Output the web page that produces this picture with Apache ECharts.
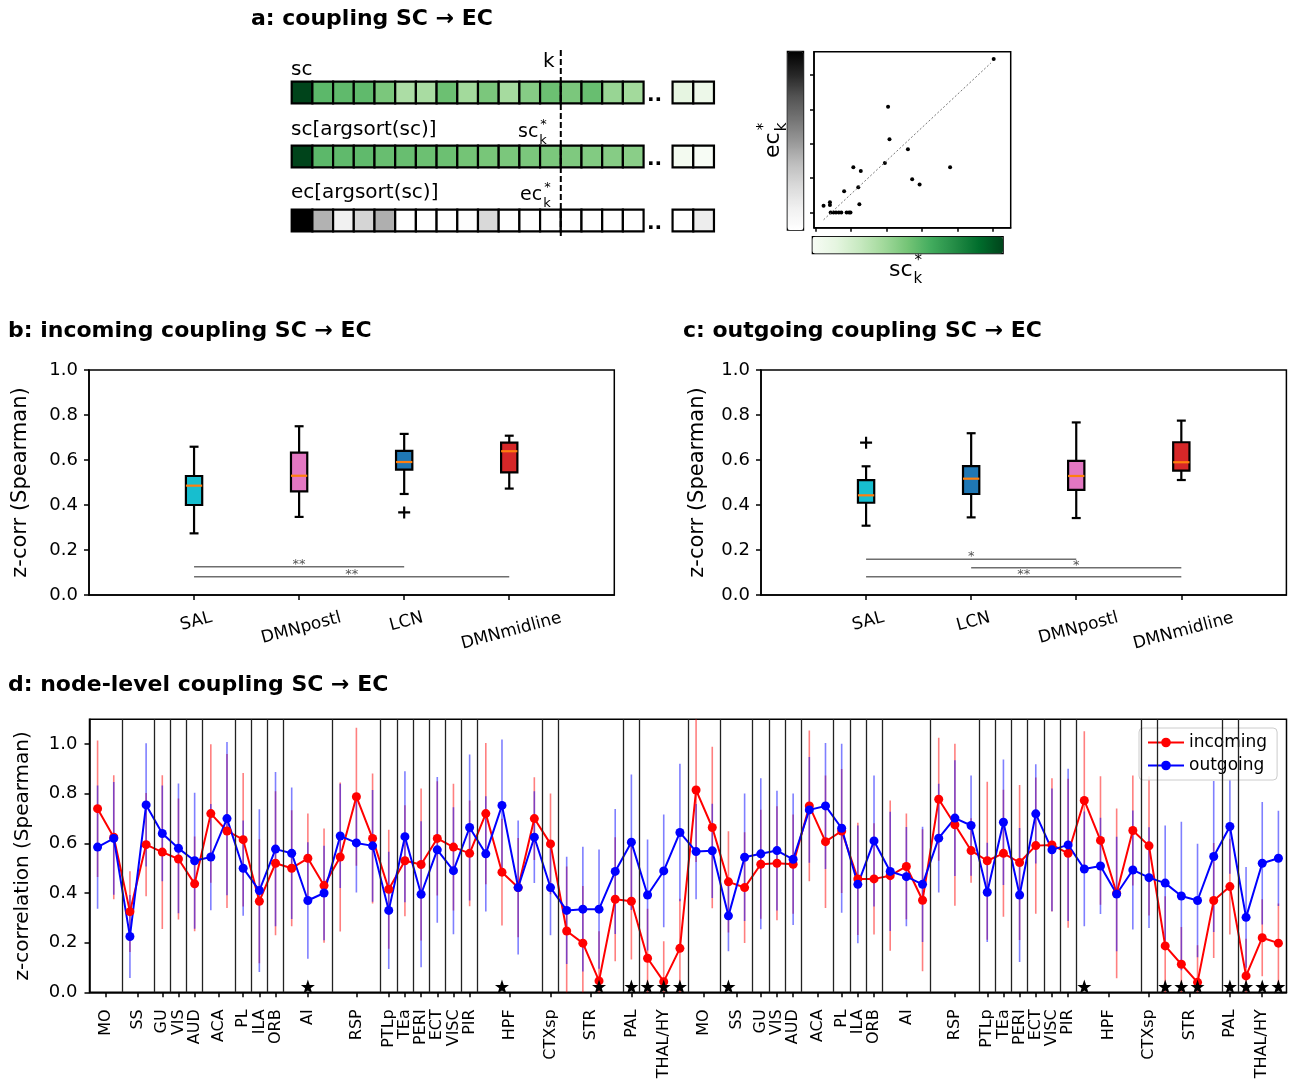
<!DOCTYPE html>
<html>
<head>
<meta charset="utf-8">
<script src="https://cdn.jsdelivr.net/npm/echarts@6/dist/echarts.min.js"></script>
<style>
  html, body { margin: 0; background: #fff; }
  #chart { width: 1295px; height: 1084px; }
</style>
</head>
<body>
<div id="chart"></div>
<script>
// ---------- panel a: schematic values ----------
const scRow = [1.0, 0.56, 0.55, 0.55, 0.48, 0.34, 0.35, 0.52, 0.37, 0.48, 0.36, 0.45, 0.52, 0.48, 0.53, 0.40, 0.37];
const scRowTail = [0.12, 0.07];
const scSorted = [1.0, 0.56, 0.55, 0.55, 0.53, 0.53, 0.52, 0.52, 0.50, 0.49, 0.48, 0.48, 0.48, 0.47, 0.46, 0.45, 0.44];
const scSortedTail = [0.03, 0.0];
const ecSorted = [1.0, 0.41, 0.12, 0.27, 0.42, 0, 0, 0, 0.02, 0.25, 0, 0, 0, 0, 0, 0, 0];
const ecSortedTail = [0, 0.14];
const kCut = 13;
const scK = [5.02, 2.04, 2.08, 2.60, 1.95, 1.06, 1.27, 3.79, 2.72, 2.93, 1.20, 0.80, 0.40, 0.40, 0.22, 1.23, 0.42, 0.50, 0.57, 0.65, 0.72, 0.87, 0.94, 0.98];
const ecK = [4.47, 3.08, 2.13, 1.84, 1.44, 1.32, 1.21, 1.32, 0.97, 0.82, 0.74, 0.62, 0.30, 0.22, 0.20, 0.24, 0, 0, 0, 0, 0, 0, 0, 0];
const fitLine = [[0.22, -0.21], [4.94, 4.35]];

// ---------- panel b / c: boxplots [min, q1, median, q3, max] ----------
const inNames = ['SAL', 'DMNpostl', 'LCN', 'DMNmidline'];
const inStats = [
  [0.274, 0.400, 0.486, 0.529, 0.659],
  [0.347, 0.461, 0.530, 0.633, 0.750],
  [0.449, 0.557, 0.591, 0.641, 0.716],
  [0.473, 0.545, 0.639, 0.677, 0.708]
];
const inOutliers = [[3, 0.367]];
const inSigPairs = [[1, 3], [1, 4]];
const inSigY = [0.126, 0.081];
const inSigText = ['**', '**'];

const outNames = ['SAL', 'LCN', 'DMNpostl', 'DMNmidline'];
const outStats = [
  [0.308, 0.410, 0.443, 0.511, 0.572],
  [0.345, 0.449, 0.517, 0.573, 0.719],
  [0.342, 0.467, 0.529, 0.596, 0.767],
  [0.511, 0.553, 0.590, 0.679, 0.775]
];
const outOutliers = [[1, 0.677]];
const outSigPairs = [[1, 3], [2, 4], [1, 4]];
const outSigY = [0.159, 0.121, 0.081];
const outSigText = ['*', '*', '**'];

// ---------- panel d: node-level coupling ----------
const groupNames = ['MO', 'SS', 'GU', 'VIS', 'AUD', 'ACA', 'PL', 'ILA', 'ORB', 'AI', 'RSP', 'PTLp', 'TEa', 'PERI', 'ECT', 'VISC', 'PIR', 'HPF', 'CTXsp', 'STR', 'PAL', 'THAL/HY'];
const groupSizes = [2, 2, 1, 1, 1, 2, 1, 1, 1, 3, 3, 1, 1, 1, 1, 1, 1, 4, 1, 4, 1, 3];
const incomingMean = [
  0.74, 0.625, 0.325, 0.595, 0.565, 0.537, 0.437, 0.72, 0.65, 0.615, 0.367, 0.52, 0.50, 0.54, 0.43, 0.545, 0.788, 0.62, 0.415,
  0.53, 0.515, 0.62, 0.585, 0.56, 0.72, 0.484, 0.422, 0.70, 0.598, 0.247, 0.198, 0.046, 0.375, 0.367, 0.137, 0.043, 0.177,
  0.815, 0.664, 0.445, 0.422, 0.516, 0.52, 0.516, 0.751, 0.607, 0.65, 0.457, 0.457, 0.47, 0.507, 0.371, 0.778, 0.675, 0.571,
  0.53, 0.56, 0.523, 0.591, 0.594, 0.56, 0.773, 0.612, 0.399, 0.652, 0.59, 0.187, 0.113, 0.04, 0.37, 0.426, 0.066, 0.22, 0.198
];
const incomingSd = [
  0.275, 0.25, 0.163, 0.208, 0.31, 0.244, 0.191, 0.279, 0.31, 0.269, 0.25, 0.29, 0.234, 0.18, 0.23, 0.30, 0.278, 0.262, 0.24,
  0.224, 0.306, 0.23, 0.255, 0.213, 0.285, 0.215, 0.2, 0.167, 0.203, 0.26, 0.23, 0.2, 0.25, 0.235, 0.2, 0.163, 0.2,
  0.29, 0.325, 0.204, 0.223, 0.22, 0.23, 0.2, 0.304, 0.267, 0.25, 0.226, 0.224, 0.303, 0.213, 0.286, 0.248, 0.326, 0.13,
  0.318, 0.256, 0.312, 0.274, 0.268, 0.3, 0.279, 0.259, 0.342, 0.222, 0.281, 0.2, 0.15, 0.15, 0.232, 0.193, 0.15, 0.155, 0.16
];
const outgoingMean = [
  0.585, 0.62, 0.225, 0.755, 0.64, 0.58, 0.53, 0.545, 0.70, 0.50, 0.41, 0.577, 0.56, 0.37, 0.40, 0.63, 0.602, 0.59, 0.33,
  0.627, 0.395, 0.574, 0.49, 0.664, 0.558, 0.753, 0.422, 0.625, 0.422, 0.33, 0.335, 0.335, 0.487, 0.605, 0.392, 0.489, 0.644,
  0.567, 0.57, 0.308, 0.544, 0.558, 0.571, 0.536, 0.735, 0.751, 0.661, 0.435, 0.61, 0.487, 0.466, 0.435, 0.621, 0.702, 0.672,
  0.403, 0.685, 0.392, 0.719, 0.574, 0.594, 0.497, 0.509, 0.396, 0.493, 0.462, 0.44, 0.388, 0.37, 0.547, 0.668, 0.302, 0.52, 0.54
];
const outgoingSd = [
  0.248, 0.227, 0.167, 0.248, 0.193, 0.261, 0.274, 0.214, 0.309, 0.192, 0.328, 0.311, 0.265, 0.235, 0.19, 0.21, 0.2, 0.225, 0.236,
  0.264, 0.294, 0.294, 0.256, 0.294, 0.232, 0.266, 0.27, 0.185, 0.192, 0.216, 0.251, 0.24, 0.252, 0.273, 0.224, 0.227, 0.277,
  0.192, 0.19, 0.143, 0.257, 0.304, 0.241, 0.265, 0.213, 0.254, 0.34, 0.237, 0.264, 0.24, 0.2, 0.232, 0.219, 0.233, 0.202,
  0.2, 0.253, 0.27, 0.2, 0.247, 0.307, 0.231, 0.194, 0.231, 0.24, 0.203, 0.232, 0.299, 0.229, 0.304, 0.19, 0.203, 0.247, 0.192
];
const starNodes = [13, 25, 31, 33, 34, 35, 36, 39, 61, 66, 67, 68, 70, 71, 72, 73];

// ---------- styles ----------
const FONT = 'DejaVu Sans';
const GREENS = ['#f7fcf5', '#e5f5e0', '#c7e9c0', '#a1d99b', '#74c476', '#41ab5d', '#238b45', '#006d2c', '#00441b'];
const GREYS = ['#ffffff', '#f0f0f0', '#d9d9d9', '#bdbdbd', '#969696', '#737373', '#525252', '#252525', '#000000'];
const groupColor = { SAL: '#17becf', DMNpostl: '#e377c2', LCN: '#1f77b4', DMNmidline: '#d62728' };

// ---------- derived ----------
// cells of panel a: [column, row, value]
const tailStart = 18.4;
function rowCells(vals, tail, row) {
  const out = vals.map((v, i) => [i, row, v]);
  tail.forEach((v, j) => out.push([tailStart + j, row, v]));
  return out;
}
const cellH = 0.3375;

// panel d: hemispheres are the same group list twice
const hemiNames = groupNames.concat(groupNames);
const hemiSizes = groupSizes.concat(groupSizes);
const tickPos = [], tickName = {}, boundaries = [];
let start = 0;
hemiSizes.forEach((n, g) => {
  const c = start + (n - 1) / 2;
  tickPos.push(c);
  tickName[c.toFixed(1)] = hemiNames[g];
  start += n;
  if (g < hemiSizes.length - 1) boundaries.push(start - 0.5);
});

// ---------- render helpers ----------
function cellItem(params, api) {
  const x = api.value(0), r = api.value(1);
  const a = api.coord([x, r]), b = api.coord([x + 1, r + cellH]);
  return {
    type: 'rect',
    shape: { x: a[0], y: a[1], width: b[0] - a[0], height: b[1] - a[1] },
    style: { fill: api.visual('color'), stroke: '#000', lineWidth: 2.2 }
  };
}

function boxItem(names) {
  return function (params, api) {
    const x = api.value(0);
    const mn = api.value(1), q1 = api.value(2), md = api.value(3), q3 = api.value(4), mx = api.value(5);
    const bw = 0.155, cw = 0.085;
    const tl = api.coord([x - bw / 2, q3]), br = api.coord([x + bw / 2, q1]);
    const line = (x1, y1, x2, y2, color, w) => {
      const p = api.coord([x1, y1]), q = api.coord([x2, y2]);
      return { type: 'line', shape: { x1: p[0], y1: p[1], x2: q[0], y2: q[1] }, style: { stroke: color, lineWidth: w } };
    };
    return {
      type: 'group',
      children: [
        line(x, q3, x, mx, '#000', 2.2),
        line(x, q1, x, mn, '#000', 2.2),
        line(x - cw / 2, mx, x + cw / 2, mx, '#000', 2.2),
        line(x - cw / 2, mn, x + cw / 2, mn, '#000', 2.2),
        {
          type: 'rect',
          shape: { x: tl[0], y: tl[1], width: br[0] - tl[0], height: br[1] - tl[1] },
          style: { fill: groupColor[names[params.dataIndex]], stroke: '#000', lineWidth: 2.2 }
        },
        line(x - bw / 2, md, x + bw / 2, md, '#ff7f0e', 2.2)
      ]
    };
  };
}

function sigItem(texts) {
  return function (params, api) {
    const a = api.coord([api.value(0), api.value(2)]);
    const b = api.coord([api.value(1), api.value(2)]);
    return {
      type: 'group',
      children: [
        { type: 'line', shape: { x1: a[0], y1: a[1], x2: b[0], y2: b[1] }, style: { stroke: '#6e6e6e', lineWidth: 1.5 } },
        {
          type: 'text', x: (a[0] + b[0]) / 2, y: a[1] + 4,
          style: { text: texts[params.dataIndex], fill: '#555', font: '13px "DejaVu Sans"', align: 'center', verticalAlign: 'bottom' }
        }
      ]
    };
  };
}

function errItem(color) {
  return function (params, api) {
    const i = api.value(0), m = api.value(1), s = api.value(2);
    const a = api.coord([i, m - s]), b = api.coord([i, m + s]);
    return {
      type: 'line',
      shape: { x1: a[0], y1: a[1], x2: b[0], y2: b[1] },
      style: { stroke: color, lineWidth: 1.6, opacity: 0.5 }
    };
  };
}

const PLUS = 'path://M0,4.1H10V5.9H0Z M4.1,0H5.9V10H4.1Z';
const STAR = 'path://M12,0 L14.9,8.3 L23.4,8.3 L16.5,13.5 L19.1,21.8 L12,16.8 L4.9,21.8 L7.5,13.5 L0.6,8.3 L9.1,8.3 Z';

function textWidth(s, font) {
  return echarts.format.getTextRect ? echarts.format.getTextRect(s, font).width : s.length * 10;
}

// label with subscript k and superscript *
function subSup(x, y, base, size, rotation) {
  const w = textWidth(base, size + 'px "DejaVu Sans"');
  return {
    type: 'group', x: x, y: y, rotation: rotation || 0, silent: true,
    children: [
      { type: 'text', x: 0, y: 0, style: { text: base, font: size + 'px "DejaVu Sans"', fill: '#000', verticalAlign: 'bottom' } },
      { type: 'text', x: w + 1, y: size * 0.25, style: { text: 'k', font: Math.round(size * 0.7) + 'px "DejaVu Sans"', fill: '#000', verticalAlign: 'bottom' } },
      { type: 'text', x: w + 2, y: -size * 0.55, style: { text: '*', font: Math.round(size * 0.7) + 'px "DejaVu Sans"', fill: '#000', verticalAlign: 'bottom' } }
    ]
  };
}

const tickStyle = { show: true, inside: false, length: 5, lineStyle: { color: '#000', width: 1.5 } };
const lineStyleAxis = { show: true, onZero: false, lineStyle: { color: '#000', width: 1.5 } };
const gridBase = { show: true, borderColor: '#000', borderWidth: 1.5, backgroundColor: '#fff', containLabel: false, outerBoundsMode: 'none' };

// rotated category labels: push longer labels further down, like a centred rotated label
const LABEL_ROT = 15;
function boxXAxis(gridIndex, names) {
  const rich = {};
  names.forEach((n, i) => {
    const w = textWidth(n, '17px "DejaVu Sans"');
    const p = w * Math.sin(LABEL_ROT * Math.PI / 180) / 2;
    rich['l' + i] = { fontFamily: FONT, fontSize: 17, color: '#000', padding: [p, 0.55 * p, 0, 0] };
  });
  return {
    type: 'value', gridIndex, min: 0, max: 5,
    axisLine: lineStyleAxis, splitLine: { show: false },
    axisTick: Object.assign({ customValues: [1, 2, 3, 4] }, tickStyle),
    axisLabel: {
      customValues: [1, 2, 3, 4],
      formatter: v => { const i = Math.round(v) - 1; return '{l' + i + '|' + names[i] + '}'; },
      rich: rich,
      rotate: LABEL_ROT, align: 'center', verticalAlign: 'top', margin: 14,
      fontFamily: FONT, fontSize: 17, color: '#000'
    }
  };
}
function boxYAxis(gridIndex, gap) {
  return {
    type: 'value', gridIndex, min: 0, max: 1,
    axisLine: lineStyleAxis, splitLine: { show: false },
    axisTick: Object.assign({ customValues: [0, 0.2, 0.4, 0.6, 0.8, 1.0] }, tickStyle),
    axisLabel: { customValues: [0, 0.2, 0.4, 0.6, 0.8, 1.0], formatter: v => v.toFixed(1), margin: 11, fontFamily: FONT, fontSize: 18, color: '#000' },
    name: 'z-corr (Spearman)', nameLocation: 'middle', nameGap: gap, nameRotate: 90,
    nameTextStyle: { fontFamily: FONT, fontSize: 21, color: '#000' }
  };
}

const titleStyle = { fontFamily: FONT, fontSize: 22, fontWeight: 'bold', color: '#000' };

const option = {
  animation: false,
  backgroundColor: '#fff',
  title: [
    { text: 'a: coupling SC → EC', left: 251, top: 8, textStyle: titleStyle, padding: 0 },
    { text: 'b: incoming coupling SC → EC', left: 8, top: 320, textStyle: titleStyle, padding: 0 },
    { text: 'c: outgoing coupling SC → EC', left: 683, top: 320, textStyle: titleStyle, padding: 0 },
    { text: 'd: node-level coupling SC → EC', left: 8, top: 674, textStyle: titleStyle, padding: 0 }
  ],
  grid: [
    { left: 291.7, top: 50, width: 423.3, height: 188, show: false, containLabel: false, outerBoundsMode: 'none' },
    Object.assign({ left: 814, top: 51.7, width: 196.7, height: 176 }, gridBase),
    Object.assign({ left: 89, top: 370, width: 525.3, height: 225 }, gridBase),
    Object.assign({ left: 761, top: 370, width: 525.4, height: 225 }, gridBase),
    Object.assign({ left: 89.5, top: 719.3, width: 1197, height: 273 }, gridBase)
  ],
  xAxis: [
    { type: 'value', gridIndex: 0, min: 0, max: 20.45, show: false },
    {
      type: 'value', gridIndex: 1, min: -0.05, max: 5.5,
      axisLine: lineStyleAxis, splitLine: { show: false },
      axisTick: Object.assign({ customValues: [0, 1, 2, 3, 4, 5] }, tickStyle, { length: 4 }),
      axisLabel: { show: false }
    },
    boxXAxis(2, inNames),
    boxXAxis(3, outNames),
    {
      type: 'value', gridIndex: 4, min: -0.5, max: 73.5,
      axisLine: lineStyleAxis, splitLine: { show: false },
      axisTick: Object.assign({ customValues: tickPos }, tickStyle),
      axisLabel: {
        customValues: tickPos, formatter: v => tickName[v.toFixed(1)],
        rotate: 90, margin: 17, fontFamily: FONT, fontSize: 16, color: '#000'
      }
    }
  ],
  yAxis: [
    { type: 'value', gridIndex: 0, min: -0.495, max: 2.4425, inverse: true, show: false },
    {
      type: 'value', gridIndex: 1, min: -0.44, max: 4.68,
      axisLine: lineStyleAxis, splitLine: { show: false },
      axisTick: Object.assign({ customValues: [0, 1, 2, 3, 4] }, tickStyle, { length: 4 }),
      axisLabel: { show: false }
    },
    boxYAxis(2, 58),
    boxYAxis(3, 53),
    {
      type: 'value', gridIndex: 4, min: 0, max: 1.1,
      axisLine: lineStyleAxis, splitLine: { show: false },
      axisTick: Object.assign({ customValues: [0, 0.2, 0.4, 0.6, 0.8, 1.0] }, tickStyle),
      axisLabel: { customValues: [0, 0.2, 0.4, 0.6, 0.8, 1.0], formatter: v => v.toFixed(1), margin: 12, fontFamily: FONT, fontSize: 18, color: '#000' },
      name: 'z-correlation (Spearman)', nameLocation: 'middle', nameGap: 57, nameRotate: 90,
      nameTextStyle: { fontFamily: FONT, fontSize: 20, color: '#000' }
    }
  ],
  visualMap: [
    {
      type: 'continuous', seriesIndex: [0, 1], dimension: 2, min: 0, max: 1,
      inRange: { color: GREENS }, orient: 'horizontal', calculable: false,
      left: 811.7, top: 236, itemWidth: 16.7, itemHeight: 190.6, padding: 0,
      borderColor: '#000', borderWidth: 1.5, text: null, hoverLink: false
    },
    {
      type: 'continuous', seriesIndex: [2], dimension: 2, min: 0, max: 1,
      inRange: { color: GREYS }, orient: 'vertical', calculable: false,
      left: 786.7, top: 50.7, itemWidth: 16, itemHeight: 178.6, padding: 0,
      borderColor: '#000', borderWidth: 1.5, text: null, hoverLink: false
    }
  ],
  legend: {
    data: ['incoming', 'outgoing'], orient: 'vertical', left: 1139, top: 728,
    itemWidth: 36, itemHeight: 12, itemGap: 6,
    backgroundColor: 'rgba(255,255,255,0.85)', borderColor: '#cccccc', borderWidth: 1, borderRadius: 4,
    padding: [6, 10, 6, 8],
    textStyle: { fontFamily: FONT, fontSize: 17, color: '#000' }
  },
  series: [
    // panel a cells
    { type: 'custom', xAxisIndex: 0, yAxisIndex: 0, renderItem: cellItem, encode: { x: 0, y: 1 }, data: rowCells(scRow, scRowTail, 0), silent: true },
    { type: 'custom', xAxisIndex: 0, yAxisIndex: 0, renderItem: cellItem, encode: { x: 0, y: 1 }, data: rowCells(scSorted, scSortedTail, 1), silent: true },
    { type: 'custom', xAxisIndex: 0, yAxisIndex: 0, renderItem: cellItem, encode: { x: 0, y: 1 }, data: rowCells(ecSorted, ecSortedTail, 2), silent: true },
    {
      type: 'line', xAxisIndex: 0, yAxisIndex: 0, data: [[kCut, -0.495], [kCut, 2.4425]],
      symbol: 'none', lineStyle: { color: '#000', width: 2, type: [6, 3] }, silent: true, z: 5
    },
    // panel a scatter
    {
      type: 'line', xAxisIndex: 1, yAxisIndex: 1, data: fitLine,
      symbol: 'none', lineStyle: { color: '#777', width: 1, type: [2, 2] }, silent: true
    },
    {
      type: 'scatter', xAxisIndex: 1, yAxisIndex: 1, data: scK.map((v, i) => [v, ecK[i]]),
      symbolSize: 4, itemStyle: { color: '#000', opacity: 1 }, silent: true
    },
    // panel b
    { type: 'custom', xAxisIndex: 2, yAxisIndex: 2, renderItem: boxItem(inNames), encode: { x: 0, y: [1, 2, 3, 4, 5] },
      data: inStats.map((s, i) => [i + 1].concat(s)), silent: true },
    { type: 'scatter', xAxisIndex: 2, yAxisIndex: 2, data: inOutliers, symbol: PLUS, symbolSize: 12, itemStyle: { color: '#000', opacity: 1 }, silent: true },
    { type: 'custom', xAxisIndex: 2, yAxisIndex: 2, renderItem: sigItem(inSigText), encode: { x: [0, 1], y: 2 },
      data: inSigPairs.map((p, i) => [p[0], p[1], inSigY[i]]), silent: true },
    // panel c
    { type: 'custom', xAxisIndex: 3, yAxisIndex: 3, renderItem: boxItem(outNames), encode: { x: 0, y: [1, 2, 3, 4, 5] },
      data: outStats.map((s, i) => [i + 1].concat(s)), silent: true },
    { type: 'scatter', xAxisIndex: 3, yAxisIndex: 3, data: outOutliers, symbol: PLUS, symbolSize: 12, itemStyle: { color: '#000', opacity: 1 }, silent: true },
    { type: 'custom', xAxisIndex: 3, yAxisIndex: 3, renderItem: sigItem(outSigText), encode: { x: [0, 1], y: 2 },
      data: outSigPairs.map((p, i) => [p[0], p[1], outSigY[i]]), silent: true },
    // panel d: group separators
    {
      type: 'line', xAxisIndex: 4, yAxisIndex: 4, data: [], silent: true,
      markLine: {
        silent: true, symbol: ['none', 'none'], label: { show: false },
        lineStyle: { color: '#222', width: 1.3, type: 'solid' },
        data: boundaries.map(b => ({ xAxis: b }))
      }
    },
    { type: 'custom', xAxisIndex: 4, yAxisIndex: 4, renderItem: errItem('#ff0000'), encode: { x: 0, y: 1 }, clip: true,
      data: incomingMean.map((m, i) => [i, m, incomingSd[i]]), silent: true },
    {
      name: 'incoming', type: 'line', xAxisIndex: 4, yAxisIndex: 4,
      data: incomingMean.map((v, i) => [i, v]), symbol: 'circle', symbolSize: 9,
      itemStyle: { color: '#ff0000', opacity: 1 }, lineStyle: { color: '#ff0000', width: 2 }, silent: true
    },
    { type: 'custom', xAxisIndex: 4, yAxisIndex: 4, renderItem: errItem('#0000ff'), encode: { x: 0, y: 1 }, clip: true,
      data: outgoingMean.map((m, i) => [i, m, outgoingSd[i]]), silent: true },
    {
      name: 'outgoing', type: 'line', xAxisIndex: 4, yAxisIndex: 4,
      data: outgoingMean.map((v, i) => [i, v]), symbol: 'circle', symbolSize: 9,
      itemStyle: { color: '#0000ff', opacity: 1 }, lineStyle: { color: '#0000ff', width: 2 }, silent: true
    },
    {
      type: 'scatter', xAxisIndex: 4, yAxisIndex: 4, data: starNodes.map(i => [i, 0.023]),
      symbol: STAR, symbolSize: 14, itemStyle: { color: '#000', opacity: 1 }, silent: true, z: 6
    }
  ],
  graphic: [
    { type: 'text', left: 291, top: 60, style: { text: 'sc', font: '20px "DejaVu Sans"', fill: '#000' }, silent: true },
    { type: 'text', left: 291, top: 120, style: { text: 'sc[argsort(sc)]', font: '20px "DejaVu Sans"', fill: '#000' }, silent: true },
    { type: 'text', left: 291, top: 183, style: { text: 'ec[argsort(sc)]', font: '20px "DejaVu Sans"', fill: '#000' }, silent: true },
    { type: 'text', left: 543, top: 52, style: { text: 'k', font: '20px "DejaVu Sans"', fill: '#000' }, silent: true },
    { type: 'text', left: 647, top: 86, style: { text: '..', font: 'bold 20px "DejaVu Sans"', fill: '#000' }, silent: true },
    { type: 'text', left: 647, top: 150, style: { text: '..', font: 'bold 20px "DejaVu Sans"', fill: '#000' }, silent: true },
    { type: 'text', left: 647, top: 214, style: { text: '..', font: 'bold 20px "DejaVu Sans"', fill: '#000' }, silent: true },
    subSup(518, 142, 'sc', 19, 0),
    subSup(520, 205, 'ec', 19, 0),
    subSup(889, 281, 'sc', 22, 0),
    subSup(784, 158, 'ec', 22, Math.PI / 2)
  ]
};

const chart = echarts.init(document.getElementById('chart'));
chart.setOption(option);
</script>
</body>
</html>
